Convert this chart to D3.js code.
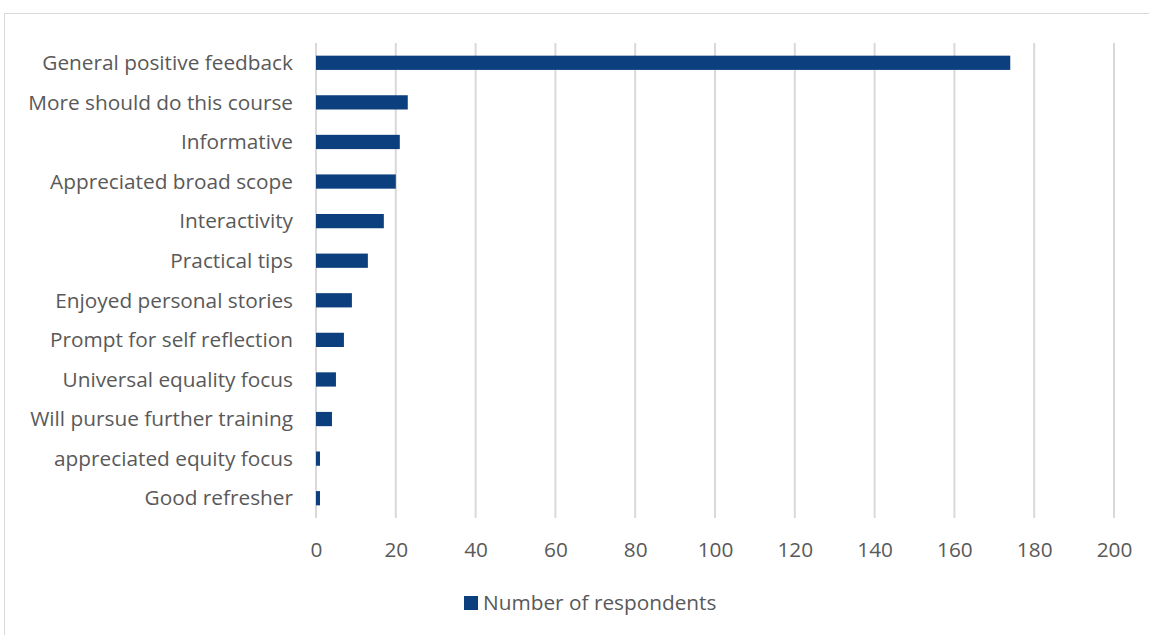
<!DOCTYPE html>
<html>
<head>
<meta charset="utf-8">
<script src="https://cdn.jsdelivr.net/npm/d3@7"></script>
<style>
  html, body { margin: 0; padding: 0; background: #fff; }
  svg { display: block; }
</style>
</head>
<body>
<svg id="chart" width="1149" height="635"></svg>
<script>
// Feedback themes, top to bottom
const categories = [
  "General positive feedback",
  "More should do this course",
  "Informative",
  "Appreciated broad scope",
  "Interactivity",
  "Practical tips",
  "Enjoyed personal stories",
  "Prompt for self reflection",
  "Universal equality focus",
  "Will pursue further training",
  "appreciated equity focus",
  "Good refresher"
];
const respondents = [174, 23, 21, 20, 17, 13, 9, 7, 5, 4, 1, 1];
const xTicks = [0, 20, 40, 60, 80, 100, 120, 140, 160, 180, 200];
const seriesName = "Number of respondents";

(function draw() {
  const svg = d3.select("#chart");
  const font = "'Open Sans', sans-serif";
  const fontSize = 20.8;
  const barColor = "#0c3f7e";
  const textColor = "#595959";

  // outer frame
  svg.append("rect")
    .attr("x", 4.5).attr("y", 13.5)
    .attr("width", 1170).attr("height", 640)
    .attr("fill", "none").attr("stroke", "#d9d9d9").attr("stroke-width", 1);

  const plotLeft = 316, plotRight = 1114, plotTop = 43, plotBottom = 518;

  const x = d3.scaleLinear().domain([0, 200]).range([plotLeft, plotRight]);
  const y = d3.scaleBand().domain(categories).range([plotTop, plotBottom])
    .paddingInner(0.64).paddingOuter(0.32);

  // vertical gridlines
  svg.append("g")
    .selectAll("line")
    .data(xTicks)
    .join("line")
    .attr("x1", d => x(d)).attr("x2", d => x(d))
    .attr("y1", plotTop).attr("y2", plotBottom)
    .attr("stroke", "#d9d9d9").attr("stroke-width", 2);

  // bars
  svg.append("g")
    .selectAll("rect")
    .data(categories)
    .join("rect")
    .attr("x", x(0))
    .attr("y", d => y(d))
    .attr("width", (d, i) => x(respondents[i]) - x(0))
    .attr("height", y.bandwidth())
    .attr("fill", barColor);

  // category axis
  const yAxis = svg.append("g")
    .attr("transform", `translate(${plotLeft - 23},0)`)
    .call(d3.axisLeft(y).tickSize(0).tickPadding(0));
  yAxis.select(".domain").remove();
  yAxis.selectAll("text")
    .attr("font-family", font).attr("font-size", fontSize)
    .attr("fill", textColor).attr("dy", "0.35em");

  // value axis
  const xAxis = svg.append("g")
    .attr("transform", `translate(0,${plotBottom + 32})`)
    .call(d3.axisBottom(x).tickValues(xTicks).tickSize(0).tickPadding(0));
  xAxis.select(".domain").remove();
  xAxis.selectAll("text")
    .attr("font-family", font).attr("font-size", fontSize)
    .attr("fill", textColor).attr("dy", "0.35em");

  // legend
  const legend = svg.append("g").attr("transform", "translate(464,596)");
  legend.append("rect").attr("width", 14).attr("height", 14).attr("fill", barColor);
  legend.append("text")
    .attr("x", 19).attr("y", 7).attr("dy", "0.35em")
    .attr("font-family", font).attr("font-size", fontSize)
    .attr("fill", textColor)
    .text(seriesName);
})();
</script>
</body>
</html>
